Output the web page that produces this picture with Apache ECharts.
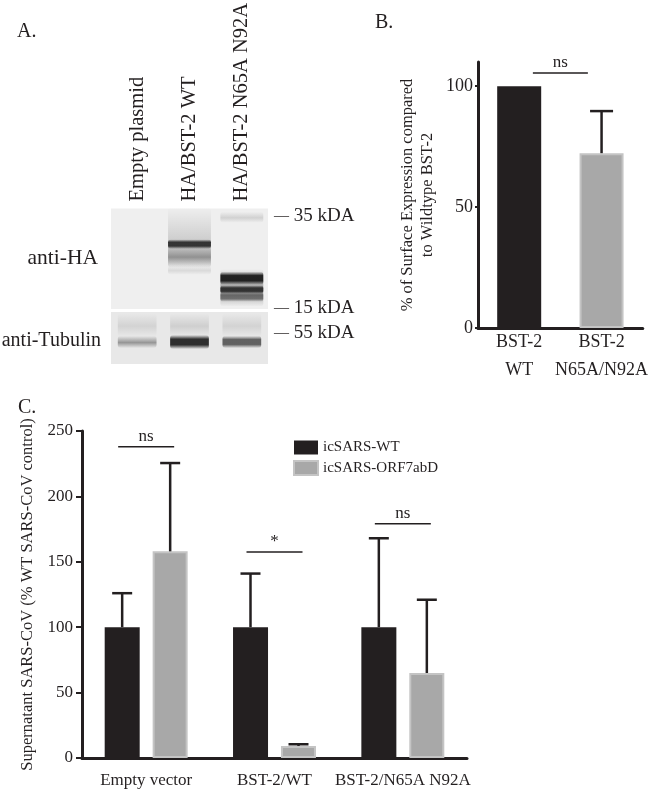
<!DOCTYPE html>
<html>
<head>
<meta charset="UTF-8">
<title>BST-2 / SARS-CoV figure</title>
<script src="https://cdn.jsdelivr.net/npm/echarts@6/dist/echarts.min.js"></script>
<style>
  html, body { margin: 0; padding: 0; background: #fff; }
  #chart { width: 650px; height: 791px; }
</style>
</head>
<body>
<div id="chart"></div>
<script>
// ---- panel A: western blot ----
var blotLanes = ['Empty plasmid', 'HA/BST-2 WT', 'HA/BST-2 N65A N92A'];
var haMarkers = [15, 35];
var tubMarkers = [55];
// [lane, upper kDa, lower kDa, darkness]
var haBands = [
    [1, 38.0, 21.5, 0.16],
    [1, 27.0, 21.8, 0.40],
    [1, 28.3, 25.9, 0.85],
    [1, 22.2, 20.4, 0.10],
    [2, 36.5, 33.0, 0.14],
    [2, 21.5, 15.2, 0.40],
    [2, 21.0, 18.6, 0.95],
    [2, 18.5, 17.1, 0.80],
    [2, 17.4, 15.9, 0.50]
];
var tubBands = [
    [0, 61.5, 54.0, 0.10], [1, 61.5, 54.0, 0.12], [2, 61.5, 54.0, 0.10],
    [0, 54.2, 50.2, 0.40],
    [1, 54.5, 49.9, 0.90],
    [2, 54.2, 50.2, 0.65]
];

// ---- panel B ----
var bCats = ['BST-2\nWT', 'BST-2\nN65A/N92A'];
var bMeans = [100, 72.3];
var bUpper = [null, 89.7];
var bTicks = [0, 50, 100];
var bSigLevel = [105.4];
var bSigText = ['ns'];

// ---- panel C ----
var cCats = ['Empty vector', 'BST-2/WT', 'BST-2/N65A N92A'];
var cSeries = ['icSARS-WT', 'icSARS-ORF7abD'];
var cWT = [100, 100, 100];
var cWTUpper = [126, 141, 168];
var cORF = [158, 9.2, 65];
var cORFUpper = [225.5, 10.5, 121];
var cSigLevel = [238, 157.5, 179];
var cSigText = ['ns', '*', 'ns'];

var ink = '#231f20';
var grey = '#a8a8a8';
var greyEdge = '#c4c4c4';
var serif = "'Liberation Serif', 'Times New Roman', serif";

function errData(means, upper) {
    var out = [];
    means.forEach(function (m, i) {
        if (upper[i] != null) out.push([i, m, upper[i]]);
    });
    return out;
}

// one sided error bar with a cap
function errorBars(offset, cap) {
    return function (params, api) {
        var base = api.coord([api.value(0), api.value(1)]);
        var top = api.coord([api.value(0), api.value(2)]);
        var x = base[0] + offset;
        return {
            type: 'group',
            children: [
                { type: 'line', shape: { x1: x, y1: base[1], x2: x, y2: top[1] }, style: { stroke: ink, lineWidth: 2.5 } },
                { type: 'line', shape: { x1: x - cap / 2, y1: top[1], x2: x + cap / 2, y2: top[1] }, style: { stroke: ink, lineWidth: 2.5 } }
            ]
        };
    };
}

// significance line + label
function sigBars(shift, texts, half) {
    return function (params, api) {
        var p = api.coord([api.value(0), api.value(1)]);
        var bw = api.size([1, 0])[0];
        var x = p[0] + shift * bw;
        return {
            type: 'group',
            children: [
                { type: 'line', shape: { x1: x - half, y1: p[1], x2: x + half, y2: p[1] }, style: { stroke: ink, lineWidth: 1.5 } },
                { type: 'text', x: x, y: p[1] - 2, style: { text: texts[params.dataIndex], fill: ink, font: '17px ' + serif, align: 'center', verticalAlign: 'bottom' } }
            ]
        };
    };
}

// blot band, soft edged; faint smears get a smooth peak, strong bands a plateau
function blotBand(frac) {
    return function (params, api) {
        var p1 = api.coord([api.value(0), api.value(1)]);
        var p2 = api.coord([api.value(0), api.value(2)]);
        var w = api.size([1, 0])[0] * frac;
        var d = api.value(3);
        var c = 'rgba(15,15,15,' + d + ')';
        var c0 = 'rgba(15,15,15,0)';
        var stops = d < 0.5
            ? [{ offset: 0, color: c0 }, { offset: 0.55, color: c }, { offset: 1, color: c0 }]
            : [{ offset: 0, color: c0 }, { offset: 0.3, color: c }, { offset: 0.7, color: c }, { offset: 1, color: c0 }];
        return {
            type: 'rect',
            shape: { x: p1[0] - w / 2, y: p1[1], width: w, height: p2[1] - p1[1], r: 3 },
            style: {
                fill: new echarts.graphic.LinearGradient(0, 0, 0, 1, stops),
                opacity: 0.95
            }
        };
    };
}

function kdaLabel(v) {
    return '{d|—} ' + v + ' kDA';
}

var chart = echarts.init(document.getElementById('chart'));

var option = {
    animation: false,
    textStyle: { fontFamily: serif, color: ink },
    graphic: [
        { type: 'text', x: 17, y: 32, style: { text: 'A.', font: '20px ' + serif, fill: ink, verticalAlign: 'middle' } },
        { type: 'text', x: 375, y: 23, style: { text: 'B.', font: '20px ' + serif, fill: ink, verticalAlign: 'middle' } },
        { type: 'text', x: 18, y: 408, style: { text: 'C.', font: '20px ' + serif, fill: ink, verticalAlign: 'middle' } },
        { type: 'text', x: 98, y: 258, style: { text: 'anti-HA', font: '21.5px ' + serif, fill: ink, align: 'right', verticalAlign: 'middle' } },
        { type: 'text', x: 101, y: 341, style: { text: 'anti-Tubulin', font: '20px ' + serif, fill: ink, align: 'right', verticalAlign: 'middle' } }
    ],
    legend: {
        data: cSeries,
        orient: 'vertical',
        left: 293,
        top: 440,
        padding: 0,
        itemWidth: 24,
        itemHeight: 14,
        itemGap: 5,
        icon: 'rect',
        selectedMode: false,
        textStyle: { fontFamily: serif, fontSize: 15, color: ink }
    },
    grid: [
        { left: 111, top: 204, width: 157, height: 105, show: true, backgroundColor: '#efefef', borderWidth: 0 },
        { left: 111, top: 312, width: 157, height: 52, show: true, backgroundColor: '#e8e8e8', borderWidth: 0 },
        { left: 478, top: 62, width: 169, height: 266 },
        { left: 82, top: 431, width: 385, height: 327 }
    ],
    xAxis: [
        {
            type: 'category', gridIndex: 0, data: blotLanes, position: 'top',
            axisLine: { show: false }, axisTick: { show: false },
            axisLabel: { rotate: -90, interval: 0, margin: 7, fontSize: 20.5, color: ink }
        },
        { type: 'category', gridIndex: 1, data: blotLanes, show: false },
        {
            type: 'category', gridIndex: 2, data: bCats,
            axisLine: { lineStyle: { color: ink, width: 3 } },
            axisTick: { length: 4, lineStyle: { color: ink, width: 2.5 } },
            axisLabel: { interval: 0, margin: 0, fontSize: 18, lineHeight: 28, color: ink }
        },
        {
            type: 'category', gridIndex: 3, data: cCats,
            axisLine: { lineStyle: { color: ink, width: 3 } },
            axisTick: { alignWithLabel: true, length: 5, lineStyle: { color: ink, width: 2.5 } },
            axisLabel: { interval: 0, margin: 14, fontSize: 17, color: ink }
        }
    ],
    yAxis: [
        {
            type: 'log', gridIndex: 0, min: 14.87, max: 37.6, position: 'right',
            axisLine: { show: false }, axisTick: { show: false }, splitLine: { show: false },
            axisLabel: {
                customValues: haMarkers, margin: 6, fontSize: 19, color: ink,
                formatter: kdaLabel, rich: { d: { fontSize: 15, fontFamily: serif, color: ink } }
            }
        },
        {
            type: 'value', gridIndex: 1, min: 45, max: 62, position: 'right',
            axisLine: { show: false }, axisTick: { show: false }, splitLine: { show: false },
            axisLabel: {
                customValues: tubMarkers, margin: 6, fontSize: 19, color: ink,
                formatter: kdaLabel, rich: { d: { fontSize: 15, fontFamily: serif, color: ink } }
            }
        },
        {
            type: 'value', gridIndex: 2, min: 0, max: 110,
            name: '% of Surface Expression compared\nto Wildtype BST-2',
            nameLocation: 'middle', nameGap: 40,
            nameTextStyle: { fontSize: 16.5, lineHeight: 20, color: ink },
            axisLine: { show: true, lineStyle: { color: ink, width: 3 } },
            axisTick: { show: true, length: 3, customValues: bTicks, lineStyle: { color: ink, width: 2 } },
            axisLabel: { customValues: bTicks, margin: 5, fontSize: 18, color: ink },
            splitLine: { show: false }
        },
        {
            type: 'value', gridIndex: 3, min: 0, max: 250, interval: 50,
            name: 'Supernatant SARS-CoV (% WT SARS-CoV control)',
            nameLocation: 'middle', nameGap: 43,
            nameTextStyle: { fontSize: 16.5, color: ink },
            axisLine: { show: true, lineStyle: { color: ink, width: 3 } },
            axisTick: { show: true, length: 6, lineStyle: { color: ink, width: 2 } },
            axisLabel: { margin: 9, fontSize: 17, color: ink },
            splitLine: { show: false }
        }
    ],
    series: [
        {
            type: 'custom', xAxisIndex: 0, yAxisIndex: 0, silent: true,
            encode: { x: 0, y: [1, 2] }, data: haBands, renderItem: blotBand(0.82)
        },
        {
            type: 'custom', xAxisIndex: 1, yAxisIndex: 1, silent: true,
            encode: { x: 0, y: [1, 2] }, data: tubBands, renderItem: blotBand(0.74)
        },
        {
            type: 'bar', name: 'Surface expression', xAxisIndex: 2, yAxisIndex: 2, barWidth: 44,
            data: bMeans.map(function (v, i) {
                return {
                    value: v,
                    itemStyle: i === 0 ? { color: ink } : { color: grey, borderColor: greyEdge, borderWidth: 2 }
                };
            })
        },
        {
            type: 'custom', xAxisIndex: 2, yAxisIndex: 2, silent: true, z: 3,
            encode: { x: 0, y: [1, 2] }, data: errData(bMeans, bUpper), renderItem: errorBars(0, 23)
        },
        {
            type: 'custom', xAxisIndex: 2, yAxisIndex: 2, silent: true,
            encode: { x: 0, y: 1 }, data: bSigLevel.map(function (v, i) { return [i, v]; }),
            renderItem: sigBars(0.5, bSigText, 27.5)
        },
        {
            type: 'bar', name: cSeries[0], xAxisIndex: 3, yAxisIndex: 3,
            barWidth: 35, barGap: '37%', itemStyle: { color: ink }, data: cWT
        },
        {
            type: 'bar', name: cSeries[1], xAxisIndex: 3, yAxisIndex: 3,
            barWidth: 35, barGap: '37%',
            itemStyle: { color: grey, borderColor: greyEdge, borderWidth: 2 }, data: cORF
        },
        {
            type: 'custom', xAxisIndex: 3, yAxisIndex: 3, silent: true, z: 3,
            encode: { x: 0, y: [1, 2] }, data: errData(cWT, cWTUpper), renderItem: errorBars(-24, 20)
        },
        {
            type: 'custom', xAxisIndex: 3, yAxisIndex: 3, silent: true, z: 3,
            encode: { x: 0, y: [1, 2] }, data: errData(cORF, cORFUpper), renderItem: errorBars(24, 20)
        },
        {
            type: 'custom', xAxisIndex: 3, yAxisIndex: 3, silent: true,
            encode: { x: 0, y: 1 }, data: cSigLevel.map(function (v, i) { return [i, v]; }),
            renderItem: sigBars(0, cSigText, 28)
        }
    ]
};

chart.setOption(option);
</script>
</body>
</html>
